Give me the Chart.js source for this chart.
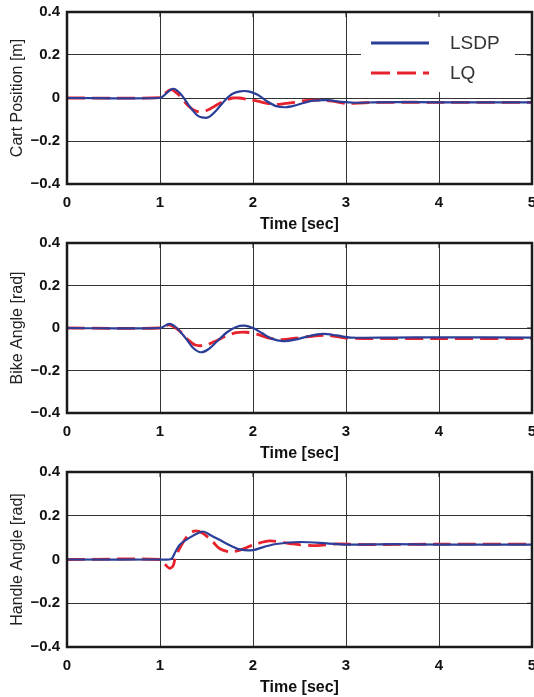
<!DOCTYPE html>
<html>
<head>
<meta charset="utf-8">
<script src="https://cdn.jsdelivr.net/npm/chart.js@4.4.1/dist/chart.umd.min.js"></script>
<style>
  body { margin: 0; background: #fff; width: 534px; height: 697px; position: relative; overflow: hidden; }
  canvas { position: absolute; left: 0; }
</style>
</head>
<body>
<canvas id="cart" width="534" height="234" style="top:0"></canvas>
<canvas id="bike" width="534" height="232" style="top:231px"></canvas>
<canvas id="handle" width="534" height="237" style="top:460px"></canvas>
<script>
// series labels
const seriesNames = ["LSDP", "LQ"];

// Cart position [m]
const cartTimeLsdp = [0, 1.0, 1.05, 1.14, 1.22, 1.32, 1.4, 1.45, 1.52, 1.6, 1.7, 1.78, 1.86, 1.95, 2.05, 2.15, 2.25, 2.35, 2.45, 2.55, 2.65, 2.8, 2.95, 3.1, 3.3, 3.5, 4, 5];
const cartLsdp = [0, 0, 0.015, 0.043, 0.02, -0.04, -0.08, -0.09, -0.09, -0.06, -0.01, 0.02, 0.031, 0.031, 0.015, -0.015, -0.038, -0.043, -0.035, -0.022, -0.012, -0.01, -0.018, -0.022, -0.02, -0.019, -0.02, -0.02];
const cartTimeLq = [0, 1.0, 1.05, 1.12, 1.2, 1.3, 1.38, 1.45, 1.52, 1.6, 1.7, 1.78, 1.85, 1.95, 2.05, 2.15, 2.25, 2.35, 2.45, 2.55, 2.7, 2.85, 3.0, 3.2, 3.5, 4, 5];
const cartLq = [0, 0.002, 0.02, 0.039, 0.015, -0.035, -0.06, -0.064, -0.055, -0.035, -0.012, 0, 0, -0.007, -0.015, -0.025, -0.03, -0.025, -0.02, -0.012, -0.01, -0.015, -0.025, -0.022, -0.02, -0.02, -0.02];

// Bike angle [rad]
const bikeTimeLsdp = [0, 1.0, 1.1, 1.18, 1.28, 1.36, 1.44, 1.52, 1.62, 1.72, 1.82, 1.91, 2.0, 2.1, 2.2, 2.32, 2.45, 2.6, 2.75, 2.9, 3.05, 3.5, 4, 5];
const bikeLsdp = [0, 0, 0.019, 0, -0.05, -0.095, -0.114, -0.1, -0.06, -0.02, 0.005, 0.011, 0, -0.025, -0.05, -0.062, -0.055, -0.038, -0.028, -0.035, -0.045, -0.045, -0.044, -0.045];
const bikeTimeLq = [0, 1.0, 1.1, 1.2, 1.3, 1.38, 1.48, 1.58, 1.7, 1.82, 1.93, 2.05, 2.15, 2.3, 2.45, 2.6, 2.8, 3.0, 3.5, 4, 5];
const bikeLq = [0, 0, 0.015, -0.01, -0.055, -0.08, -0.082, -0.065, -0.04, -0.022, -0.02, -0.03, -0.045, -0.055, -0.048, -0.04, -0.035, -0.047, -0.05, -0.05, -0.05];

// Handle angle [rad]
const handleTimeLsdp = [0, 1.0, 1.12, 1.16, 1.21, 1.32, 1.46, 1.55, 1.64, 1.75, 1.86, 2.0, 2.12, 2.25, 2.5, 2.79, 3.0, 3.5, 4, 5];
const handleLsdp = [0, 0, 0.002, 0.03, 0.066, 0.1, 0.128, 0.11, 0.09, 0.065, 0.046, 0.043, 0.058, 0.071, 0.08, 0.074, 0.068, 0.07, 0.068, 0.068];
const handleTimeLq = [0, 1.0, 1.05, 1.1, 1.14, 1.16, 1.21, 1.3, 1.37, 1.46, 1.57, 1.64, 1.75, 1.86, 2.0, 2.18, 2.43, 2.68, 2.9, 3.2, 4, 5];
const handleLq = [0, 0, -0.02, -0.04, -0.03, 0, 0.05, 0.11, 0.13, 0.12, 0.08, 0.05, 0.035, 0.043, 0.066, 0.085, 0.071, 0.063, 0.071, 0.068, 0.07, 0.07];

const blue = "#2b3e98";
const red = "#e8222c";

function pairs(ts, vs) {
  return ts.map((t, i) => ({ x: t, y: vs[i] }));
}

// thick box round the plot + small inward ticks
const framePlugin = {
  id: "frame",
  afterDatasetsDraw(chart) {
    const { ctx, chartArea: a, scales } = chart;
    ctx.save();
    ctx.strokeStyle = "#1a1a1a";
    ctx.lineWidth = 1;
    scales.x.ticks.forEach((t) => {
      const px = scales.x.getPixelForValue(t.value);
      ctx.beginPath(); ctx.moveTo(px, a.top); ctx.lineTo(px, a.top + 5); ctx.stroke();
    });
    scales.y.ticks.forEach((t) => {
      const py = scales.y.getPixelForValue(t.value);
      ctx.beginPath(); ctx.moveTo(a.right, py); ctx.lineTo(a.right - 5, py); ctx.stroke();
    });
    ctx.lineWidth = 2.5;
    ctx.strokeRect(a.left, a.top, a.right - a.left, a.bottom - a.top);
    ctx.restore();
  }
};

// legend drawn inside the top plot
const legendPlugin = {
  id: "insideLegend",
  afterDatasetsDraw(chart) {
    const { ctx, chartArea: a } = chart;
    const x0 = a.right - 171, y0 = a.top + 1;
    ctx.save();
    ctx.fillStyle = "#fff";
    ctx.fillRect(x0, y0, 154, 79);
    chart.data.datasets.forEach((ds, i) => {
      const y = y0 + 30 + i * 30;
      ctx.strokeStyle = ds.borderColor;
      ctx.lineWidth = 3;
      ctx.setLineDash(ds.borderDash ? [19, 7] : []);
      ctx.beginPath(); ctx.moveTo(x0 + 10, y); ctx.lineTo(x0 + 68, y); ctx.stroke();
      ctx.setLineDash([]);
      ctx.fillStyle = "#333";
      ctx.font = "19px 'Liberation Sans', Arial, sans-serif";
      ctx.textBaseline = "middle";
      ctx.fillText(ds.label, x0 + 89, y + 1);
    });
    ctx.restore();
  }
};

function makeConfig(yTitle, lsdp, lq, withLegend) {
  const config = {
    type: "line",
    data: {
      datasets: [
        { label: seriesNames[0], data: lsdp, borderColor: blue, borderWidth: 2.2, pointRadius: 0, tension: 0.3, fill: false },
        { label: seriesNames[1], data: lq, borderColor: red, borderWidth: 2.8, borderDash: [18, 7], pointRadius: 0, tension: 0.3, fill: false }
      ]
    },
    options: {
      responsive: false,
      animation: false,
      layout: { padding: { left: 0, right: 2, top: 12, bottom: 0 } },
      plugins: { legend: { display: false }, tooltip: { enabled: false } },
      scales: {
        x: {
          type: "linear", min: 0, max: 5,
          afterFit(s) { s.height = 50; s.paddingLeft = 0; s.paddingRight = 0; },
          grid: { color: "#333", lineWidth: 1, drawTicks: false },
          border: { display: false },
          ticks: { stepSize: 1, padding: 10, color: "#111", maxRotation: 0, font: { family: "'Liberation Sans', Arial, sans-serif", size: 15, weight: "bold" } },
          title: { display: true, text: "Time [sec]", color: "#111", padding: { top: 0, bottom: 0 }, font: { family: "'Liberation Sans', Arial, sans-serif", size: 16, weight: "bold" } }
        },
        y: {
          min: -0.4, max: 0.4,
          afterFit(s) { s.width = 67; s.paddingTop = 0; s.paddingBottom = 0; },
          grid: { color: "#333", lineWidth: 1, drawTicks: false },
          border: { display: false },
          ticks: {
            stepSize: 0.2, padding: 7, color: "#111",
            font: { family: "'Liberation Sans', Arial, sans-serif", size: 15, weight: "bold" },
            callback: (v) => Math.abs(v) < 1e-9 ? "0" : v.toFixed(1).replace("-", "\u2212")
          },
          title: { display: true, text: yTitle, color: "#222", padding: { top: 8, bottom: 0 }, font: { family: "'Liberation Sans', Arial, sans-serif", size: 16 } }
        }
      }
    },
    plugins: withLegend ? [legendPlugin, framePlugin] : [framePlugin]
  };
  return config;
}

new Chart(document.getElementById("cart"), makeConfig("Cart Position [m]", pairs(cartTimeLsdp, cartLsdp), pairs(cartTimeLq, cartLq), true));
new Chart(document.getElementById("bike"), makeConfig("Bike Angle [rad]", pairs(bikeTimeLsdp, bikeLsdp), pairs(bikeTimeLq, bikeLq), false));
new Chart(document.getElementById("handle"), makeConfig("Handle Angle [rad]", pairs(handleTimeLsdp, handleLsdp), pairs(handleTimeLq, handleLq), false));
</script>
</body>
</html>
